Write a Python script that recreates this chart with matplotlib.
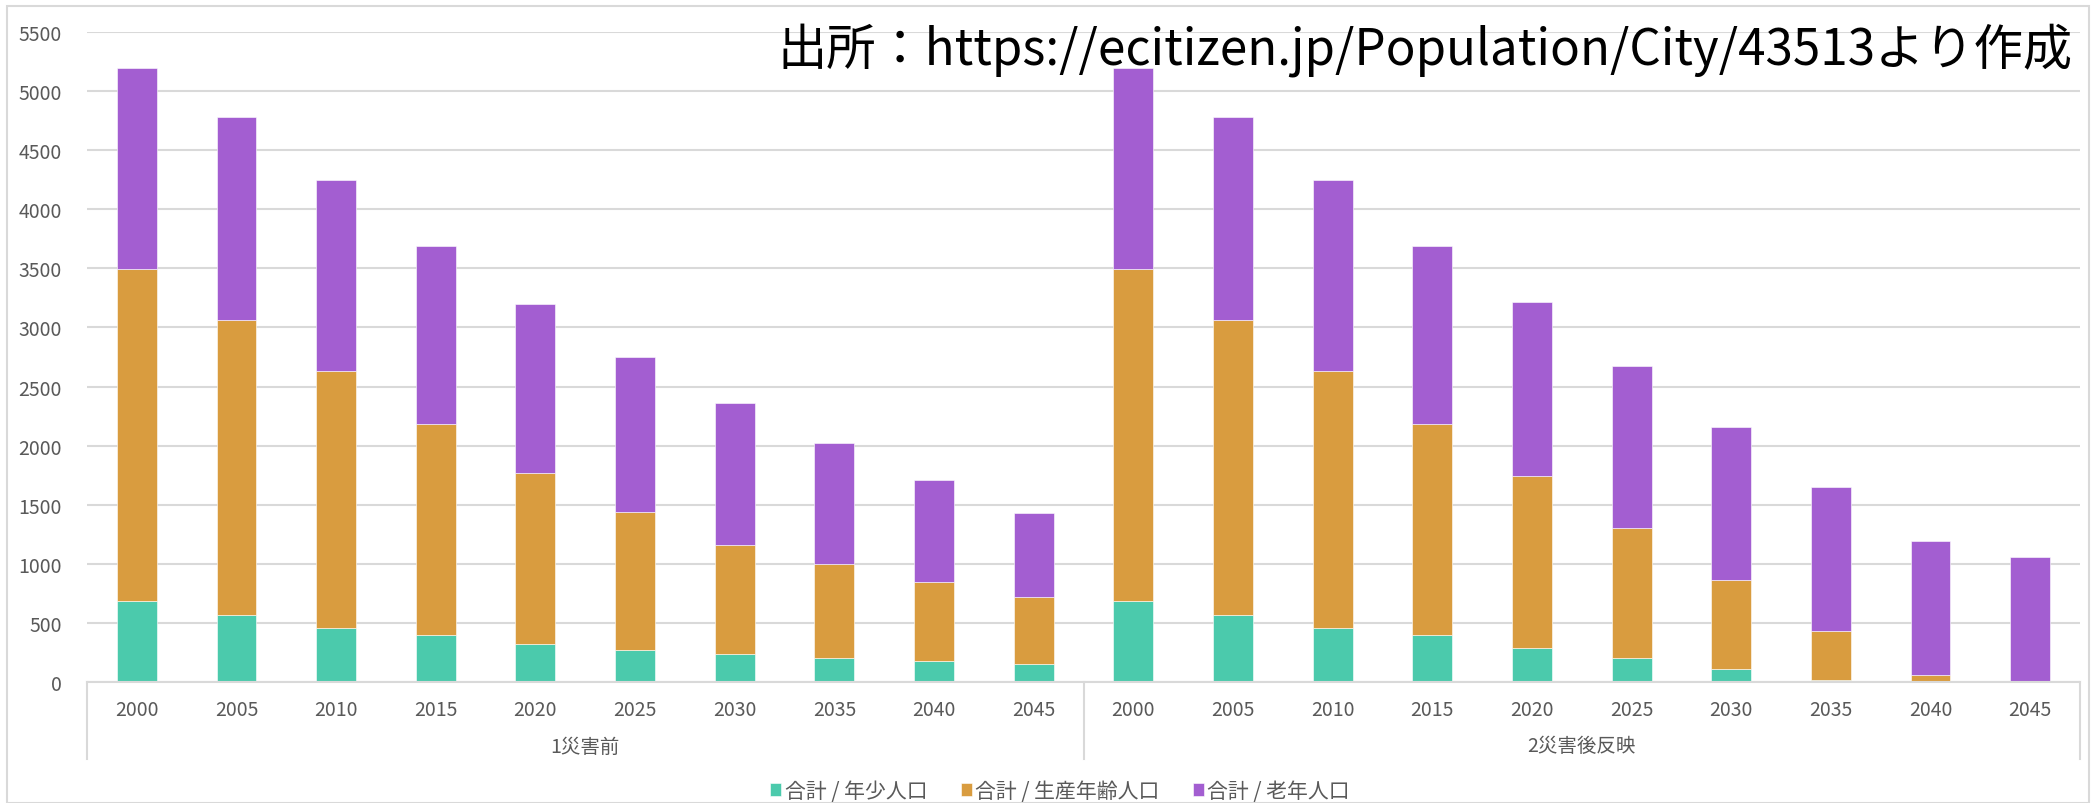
import matplotlib
matplotlib.use('Agg')
import matplotlib.pyplot as plt
import matplotlib.transforms as mtransforms
from matplotlib.patches import Rectangle

plt.rcParams['font.family'] = ['Noto Sans CJK JP', 'DejaVu Sans']

years = ['2000', '2005', '2010', '2015', '2020', '2025', '2030', '2035', '2040', '2045']
groups = ['1災害前', '2災害後反映']
series_names = ['合計 / 年少人口', '合計 / 生産年齢人口', '合計 / 老年人口']

# 1災害前
young_before = [683, 564, 454, 395, 319, 268, 234, 203, 175, 155]
working_before = [2812, 2497, 2175, 1785, 1449, 1170, 925, 795, 671, 561]
elderly_before = [1701, 1720, 1616, 1512, 1430, 1309, 1205, 1022, 863, 711]

# 2災害後反映
young_after = [683, 564, 454, 395, 285, 200, 113, 14, 2, 0]
working_after = [2812, 2497, 2175, 1785, 1461, 1103, 750, 415, 57, 2]
elderly_after = [1701, 1720, 1616, 1512, 1472, 1371, 1297, 1224, 1134, 1058]

colors = ['#4BCAAC', '#D99C3F', '#A35ED1']
text_gray = '#595959'
grid_gray = '#D9D9D9'

young = young_before + young_after
working = working_before + working_after
elderly = elderly_before + elderly_after
x = list(range(len(young)))
bottom2 = [a + b for a, b in zip(young, working)]

fig = plt.figure(figsize=(20.96, 8.04), dpi=100)
fig.patches.append(Rectangle((7 / 2096, 0.0), 1 - 14 / 2096, 1 - 7 / 804,
                             transform=fig.transFigure, fill=False,
                             edgecolor='#D9D9D9', linewidth=1.5))
ax = fig.add_axes([87 / 2096, 1 - 683 / 804, (2080 - 87) / 2096, 650 / 804])

w = 0.4
ax.bar(x, young, w, color=colors[0], label=series_names[0], edgecolor='white', linewidth=0.4)
ax.bar(x, working, w, bottom=young, color=colors[1], label=series_names[1], edgecolor='white', linewidth=0.4)
ax.bar(x, elderly, w, bottom=bottom2, color=colors[2], label=series_names[2], edgecolor='white', linewidth=0.4)

ax.set_xlim(-0.5, len(x) - 0.5)
ax.set_ylim(0, 5500)
ax.set_yticks(range(0, 5501, 500))
ax.yaxis.grid(True, color=grid_gray, linewidth=1.5)
ax.set_axisbelow(True)
for s in ['top', 'right', 'left']:
    ax.spines[s].set_visible(False)
ax.spines['bottom'].set_color(grid_gray)
ax.spines['bottom'].set_linewidth(1.5)
ax.tick_params(axis='y', length=0, labelsize=14, labelcolor=text_gray, pad=18)
ax.set_xticks(x)
ax.set_xticklabels(years * 2)
ax.tick_params(axis='x', length=0, labelsize=14, labelcolor=text_gray, pad=12)

# group separators and group labels
trans = mtransforms.blended_transform_factory(ax.transData, ax.transAxes)
sep_bottom = -(760 - 683) / 650
for xs in [-0.5, 9.5, 19.5]:
    ax.plot([xs, xs], [0, sep_bottom], transform=trans, color=grid_gray,
            linewidth=1.5, clip_on=False)
for i, g in enumerate(groups):
    ax.text(i * 10 + 4.5, -(747 - 683) / 650, g, transform=trans, ha='center',
            va='center', fontsize=14, color=text_gray)

ax.legend(loc='center', bbox_to_anchor=(1060 / 2096, 1 - 792 / 804),
          bbox_transform=fig.transFigure, ncol=3, frameon=False, fontsize=15,
          labelcolor=text_gray, handlelength=0.55, handleheight=0.55,
          handletextpad=0.15, columnspacing=1.6)

fig.text(2073 / 2096, 1 - 50 / 804, '出所：https://ecitizen.jp/Population/City/43513より作成',
         ha='right', va='center', fontsize=35.5, color='black')

fig.savefig('out.png', dpi=100)
